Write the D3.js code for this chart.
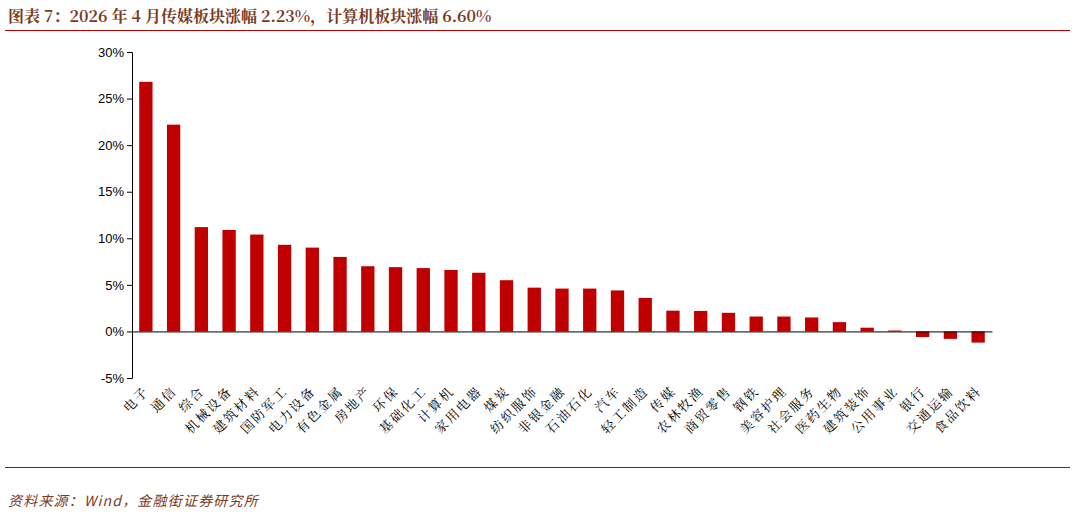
<!DOCTYPE html>
<html><head><meta charset="utf-8">
<script src="https://cdn.jsdelivr.net/npm/d3@7"></script>
<style>body{margin:0;background:#fff}</style>
</head><body>
<svg id="chart" width="1075" height="517"></svg>
<script>
// sectors and April returns (%)
var sectors = ["电子","通信","综合","机械设备","建筑材料","国防军工","电力设备","有色金属","房地产","环保","基础化工","计算机","家用电器","煤炭","纺织服饰","非银金融","石油石化","汽车","轻工制造","传媒","农林牧渔","商贸零售","钢铁","美容护理","社会服务","医药生物","建筑装饰","公用事业","银行","交通运输","食品饮料"];
var returns = [26.8,22.2,11.2,10.9,10.4,9.3,9.0,8.0,7.0,6.9,6.8,6.6,6.3,5.5,4.7,4.6,4.6,4.4,3.6,2.23,2.2,2.0,1.6,1.6,1.5,1.0,0.4,0.1,-0.6,-0.8,-1.2];
var yTicks = [-5,0,5,10,15,20,25,30];

var svg = d3.select("#chart");
var font = "'Noto Sans CJK SC', sans-serif";

svg.append("text").attr("x",8).attr("y",22)
  .attr("font-family","'Noto Serif CJK SC','Noto Sans CJK SC',serif").attr("font-weight","bold")
  .attr("font-size",16).attr("fill","#7a3b1e")
  .text("图表 7：2026 年 4 月传媒板块涨幅 2.23%，计算机板块涨幅 6.60%");
svg.append("line").attr("x1",5).attr("x2",1070).attr("y1",30.5).attr("y2",30.5).attr("stroke","#c00000");
svg.append("line").attr("x1",5).attr("x2",1070).attr("y1",467.5).attr("y2",467.5).attr("stroke","#c00000");
svg.append("text").attr("x",8).attr("y",506).attr("font-family",font).attr("font-style","italic")
  .attr("font-size",14).attr("letter-spacing",1.2).attr("fill","#7a3b1e").text("资料来源：Wind，金融街证券研究所");

var x = d3.scaleBand().domain(sectors).range([132,992]).paddingInner(0.52).paddingOuter(0.26);
var y = d3.scaleLinear().domain([-5,30]).range([378,52]);

var ya = svg.append("g").attr("transform","translate(132,0)")
  .call(d3.axisLeft(y).tickValues(yTicks).tickFormat(function(d){return d+"%";}).tickSize(5));
ya.selectAll("text").attr("font-family","Arial, 'Liberation Sans'").attr("font-size",13).attr("fill","#000");
ya.selectAll("line,path").attr("stroke","#000");

svg.selectAll("rect.bar").data(returns).enter().append("rect")
  .attr("x",function(d,i){return x(sectors[i]);})
  .attr("width",x.bandwidth())
  .attr("y",function(d){return y(Math.max(0,d));})
  .attr("height",function(d){return Math.abs(y(d)-y(0));})
  .attr("fill","#c00000");

var xa = svg.append("g").attr("transform","translate(0,"+y(0)+")")
  .call(d3.axisBottom(x).tickSize(0).tickFormat(""));
xa.select("path").attr("stroke","#000");

svg.selectAll("text.lab").data(sectors).enter().append("text")
  .attr("font-family","'Noto Serif CJK SC','Noto Sans CJK SC',serif").attr("font-size",13)
  .attr("letter-spacing",2)
  .attr("text-anchor","end")
  .attr("transform",function(d){return "translate("+(x(d)+x.bandwidth()/2+4)+",392) rotate(-45)";})
  .text(function(d){return d;});
</script>
</body></html>
